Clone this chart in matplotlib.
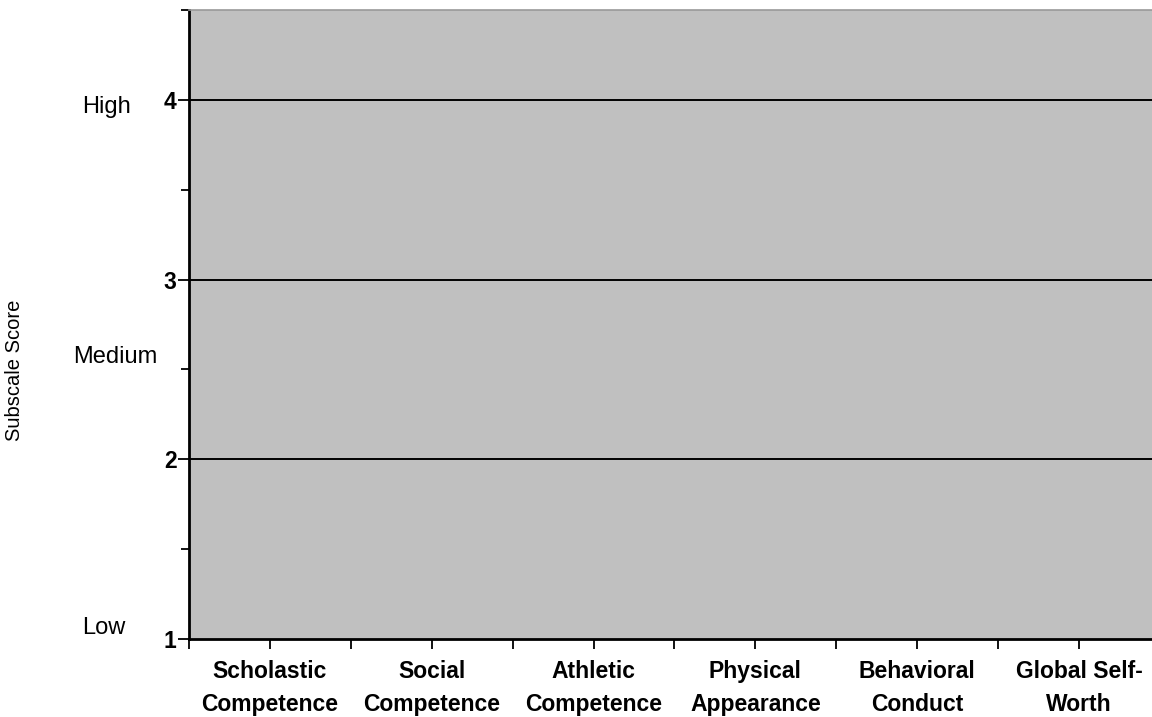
import matplotlib.pyplot as plt
from matplotlib.transforms import blended_transform_factory

plt.rcParams['font.family'] = ['Liberation Sans', 'DejaVu Sans']

categories = ["Scholastic\nCompetence", "Social\nCompetence", "Athletic\nCompetence",
              "Physical\nAppearance", "Behavioral\nConduct", "Global Self-\nWorth"]
y_major = [1, 2, 3, 4]
y_minor = [1.5, 2.5, 3.5, 4.5]
level_names = ["High", "Medium", "Low"]
level_values = [3.96, 2.57, 1.06]
level_x = [82, 73, 82]

fig = plt.figure(figsize=(11.52, 7.17), dpi=100)
ax = fig.add_axes([189 / 1152, 1 - 639 / 717, 971 / 1152, 629 / 717])
ax.set_facecolor('#c0c0c0')

n = len(categories)
ax.set_xlim(-0.5, n - 0.5)
ax.set_ylim(1, 4.5)

ax.set_yticks(y_major)
ax.set_yticklabels([str(v) for v in y_major], fontweight='bold', fontsize=16.5)
ax.set_yticks(y_minor, minor=True)
for v in [2, 3, 4]:
    ax.axhline(v, color='black', linewidth=1.4)

ax.set_xticks(range(n))
ax.set_xticklabels(categories, fontweight='bold', fontsize=16.5, linespacing=1.55)
ax.set_xticks([i + 0.5 for i in range(-1, n)], minor=True)

ax.tick_params(axis='y', which='major', direction='out', length=8, width=1.3, pad=1)
ax.tick_params(axis='y', which='minor', direction='out', length=6, width=1.3)
ax.tick_params(axis='x', which='both', direction='out', length=7, width=1.3, pad=8)

for s in ['left', 'bottom']:
    ax.spines[s].set_linewidth(2)
    ax.spines[s].set_color('black')
ax.spines['top'].set_color('#999999')
ax.spines['top'].set_linewidth(1.2)
ax.spines['right'].set_visible(False)

trans = blended_transform_factory(fig.transFigure, ax.transData)
for name, val, xp in zip(level_names, level_values, level_x):
    ax.text(xp / 1152, val, name, transform=trans, fontsize=17, ha='left', va='center')

fig.text(15 / 1152, 1 - 370 / 717, "Subscale Score", rotation=90, fontsize=14.5,
         ha='center', va='center')

fig.savefig('out.png', dpi=100)
